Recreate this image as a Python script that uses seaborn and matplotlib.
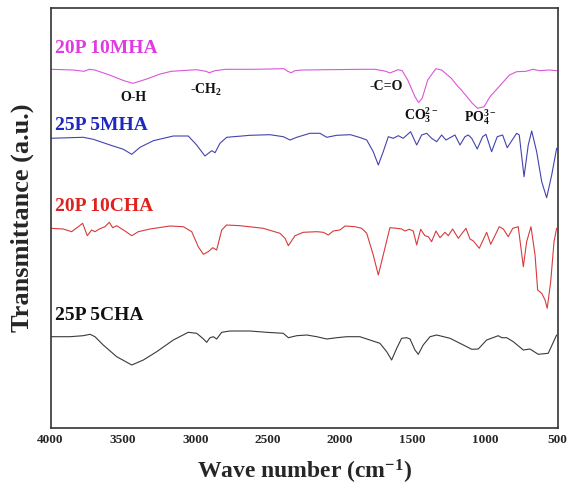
import matplotlib
matplotlib.use("Agg")
import matplotlib.pyplot as plt
import seaborn as sns
import pandas as pd

# ---- data: (wavenumber cm^-1, transmittance a.u.) ----
mha20 = [(4000, 358.7), (3844, 358.0), (3769, 356.7), (3731, 358.7), (3694, 358.0),
         (3593, 353.0), (3493, 347.3), (3430, 344.7), (3342, 348.7), (3242, 354.0),
         (3166, 356.7), (2991, 358.3), (2928, 356.7), (2903, 355.3), (2865, 357.3),
         (2790, 358.7), (2589, 358.7), (2388, 359.3), (2363, 356.7), (2338, 355.3),
         (2313, 357.3), (2263, 358.0), (2087, 358.3), (1836, 358.7), (1760, 358.7),
         (1685, 356.7), (1657, 355.0), (1601, 358.3), (1572, 357.3), (1534, 348.0),
         (1484, 331.3), (1459, 325.5), (1434, 329.7), (1396, 348.0), (1340, 359.3),
         (1300, 358.0), (1233, 349.7), (1196, 343.0), (1158, 337.0), (1090, 325.0),
         (1052, 319.7), (1007, 321.3), (966, 331.3), (881, 345.0), (831, 353.0),
         (782, 356.3), (718, 356.7), (669, 358.7), (625, 357.3), (555, 358.0), (505, 357.3)]

mha25 = [(4000, 289.7), (3774, 290.7), (3705, 288.7), (3589, 283.0), (3497, 278.7),
         (3439, 273.7), (3382, 280.7), (3290, 287.3), (3152, 292.0), (3049, 292.0),
         (2991, 283.0), (2934, 272.0), (2887, 277.3), (2864, 275.3), (2830, 284.7),
         (2784, 290.7), (2622, 292.7), (2485, 293.3), (2393, 291.3), (2346, 288.0),
         (2300, 290.7), (2209, 294.7), (2140, 294.7), (2093, 290.7), (2024, 292.7),
         (1929, 293.3), (1860, 290.3), (1817, 288.0), (1772, 276.3), (1737, 263.0),
         (1703, 276.3), (1668, 291.3), (1634, 289.7), (1599, 292.3), (1565, 289.7),
         (1514, 296.3), (1472, 283.0), (1438, 293.0), (1403, 294.7), (1369, 289.7),
         (1334, 286.3), (1300, 293.0), (1270, 288.0), (1242, 290.3), (1208, 293.0),
         (1173, 283.0), (1139, 291.3), (1116, 293.0), (1092, 289.7), (1054, 279.0),
         (1017, 291.3), (994, 293.7), (955, 276.3), (916, 291.3), (879, 293.0),
         (847, 280.3), (805, 289.7), (782, 294.7), (764, 293.0), (731, 251.3),
         (702, 283.0), (678, 297.0), (644, 276.3), (609, 246.3), (575, 230.3),
         (540, 253.0), (506, 279.7)]

cha20 = [(4000, 199.7), (3912, 199.0), (3854, 196.3), (3808, 201.3), (3778, 204.7),
         (3746, 192.3), (3716, 198.0), (3693, 196.3), (3663, 199.0), (3624, 201.3),
         (3594, 205.7), (3571, 200.3), (3543, 202.3), (3486, 197.0), (3439, 192.3),
         (3394, 196.3), (3313, 199.0), (3175, 202.0), (3083, 201.3), (3025, 196.3),
         (2980, 181.3), (2945, 173.7), (2911, 176.3), (2880, 180.3), (2853, 178.0),
         (2818, 198.0), (2784, 203.0), (2692, 202.3), (2531, 199.7), (2416, 194.7),
         (2381, 189.7), (2358, 182.3), (2312, 192.3), (2255, 195.7), (2162, 196.3),
         (2117, 195.7), (2082, 193.0), (2048, 197.0), (2002, 198.0), (1967, 202.0),
         (1898, 201.3), (1852, 199.7), (1817, 194.7), (1772, 173.0), (1737, 153.0),
         (1703, 173.0), (1657, 200.3), (1610, 199.7), (1576, 199.0), (1553, 197.0),
         (1523, 198.7), (1496, 197.0), (1472, 183.0), (1445, 198.7), (1415, 192.3),
         (1392, 191.3), (1369, 186.3), (1339, 197.0), (1311, 190.3), (1277, 195.7),
         (1254, 192.3), (1224, 199.0), (1185, 189.7), (1132, 199.7), (1104, 189.0),
         (1081, 187.0), (1040, 179.7), (989, 195.7), (961, 183.7), (902, 201.3),
         (874, 199.0), (840, 191.3), (809, 199.7), (771, 201.3), (736, 161.3),
         (713, 186.3), (683, 201.3), (655, 173.0), (637, 138.0), (609, 134.7),
         (586, 128.0), (571, 119.7), (547, 146.3), (524, 186.3), (506, 199.7)]

cha25 = [(4000, 91.3), (3865, 91.3), (3774, 92.3), (3727, 93.7), (3693, 91.3),
         (3636, 83.0), (3543, 71.3), (3439, 63.0), (3359, 68.0), (3267, 76.3),
         (3152, 88.0), (3049, 95.7), (2991, 94.7), (2949, 89.7), (2922, 85.7),
         (2899, 90.3), (2876, 91.3), (2853, 89.0), (2818, 95.7), (2761, 97.0),
         (2623, 97.0), (2508, 95.7), (2393, 94.7), (2358, 90.3), (2300, 92.3),
         (2231, 93.0), (2162, 91.3), (2093, 89.0), (2024, 90.3), (1955, 91.3),
         (1864, 91.3), (1795, 88.0), (1726, 84.7), (1679, 76.3), (1645, 68.0),
         (1610, 79.7), (1576, 89.7), (1541, 90.3), (1518, 89.0), (1484, 78.0),
         (1461, 73.7), (1427, 83.0), (1380, 91.3), (1334, 93.0), (1242, 89.7),
         (1150, 83.0), (1092, 78.7), (1047, 79.0), (989, 88.0), (909, 92.3),
         (885, 90.3), (851, 90.3), (805, 86.3), (736, 78.0), (690, 79.0),
         (633, 73.7), (564, 74.7), (506, 93.0)]

series_names = ["20P 10MHA", "25P 5MHA", "20P 10CHA", "25P 5CHA"]
series_data = [mha20, mha25, cha20, cha25]
line_colors = ["#d957d9", "#4343b0", "#d63c3c", "#3a3a3a"]
label_colors = ["#e03be0", "#1f28c0", "#e0221e", "#111111"]
label_y = [380, 303, 222, 113]

# band annotations: (text, wavenumber, transmittance)
bands = [("O-H", 3430, 331), ("-CH$_2$", 2930, 338), ("-C=O", 1680, 342),
         ("CO$_3^{2-}$", 1440, 313), ("PO$_4^{3-}$", 1030, 311)]

xticks = [4000, 3500, 3000, 2500, 2000, 1500, 1000, 500]

# ---- style ----
sns.set_style("white")
plt.rcParams["font.family"] = ["Liberation Serif", "DejaVu Serif"]
plt.rcParams["font.weight"] = "bold"
plt.rcParams["mathtext.fontset"] = "custom"
plt.rcParams["mathtext.rm"] = "Liberation Serif:bold"
plt.rcParams["mathtext.bf"] = "Liberation Serif:bold"
plt.rcParams["mathtext.it"] = "Liberation Serif:bold:italic"
plt.rcParams["mathtext.default"] = "bf"

fig = plt.figure(figsize=(5.7, 4.9), dpi=100)
ax = fig.add_axes([50.5 / 570, 1 - 428 / 490, 507 / 570, 420 / 490])

for name, data, lc in zip(series_names, series_data, line_colors):
    df = pd.DataFrame(data, columns=["wn", "T"])
    sns.lineplot(data=df, x="wn", y="T", ax=ax, color=lc, linewidth=0.8,
                 estimator=None, sort=False)

for name, ly, c in zip(series_names, label_y, label_colors):
    ax.text(3972, ly, name, color=c, fontsize=14, fontweight="bold",
            ha="left", va="center")

for txt, x, y in bands:
    ax.text(x, y, txt, color="#111111", fontsize=10, fontweight="bold",
            ha="center", va="center")

ax.set_xlim(4000, 500)
ax.set_ylim(0, 420)
ax.set_xticks(xticks)
ax.set_xticklabels([str(t) for t in xticks], fontsize=9.5, fontweight="bold")
ax.set_yticks([])
ax.tick_params(axis="x", length=0, pad=4)
ax.set_xlabel("Wave number (cm$^{-1}$)", fontsize=17, fontweight="bold", labelpad=9)
ax.set_ylabel("Transmittance (a.u.)", fontsize=19, fontweight="bold", labelpad=12)
for s in ax.spines.values():
    s.set_visible(True)
    s.set_linewidth(1.2)
    s.set_color("#333333")

fig.savefig("out.png", dpi=100)
